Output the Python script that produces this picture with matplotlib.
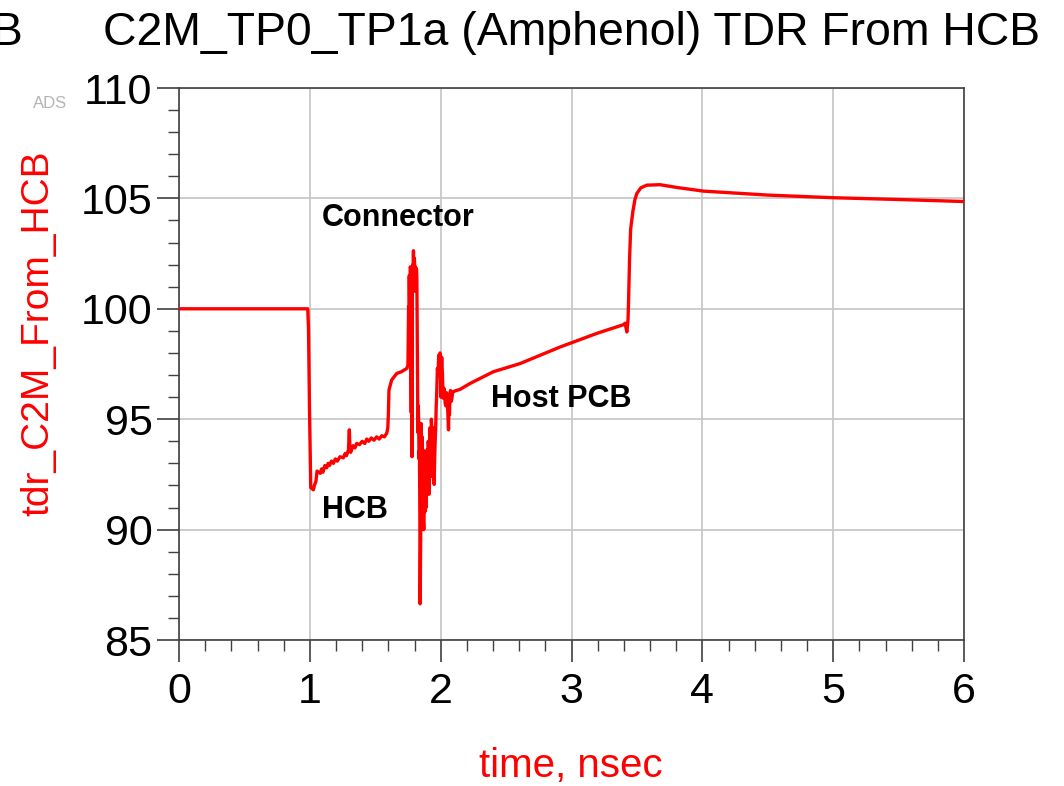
import numpy as np
import matplotlib
matplotlib.use("Agg")
import matplotlib.pyplot as plt
from matplotlib.ticker import MultipleLocator

plt.rcParams['font.family'] = ['Liberation Sans', 'DejaVu Sans']

# TDR trace (time in nsec, impedance in ohm)
t_hcb = [0.0, 0.984, 0.990, 0.997, 1.007, 1.027, 1.035, 1.047, 1.055, 1.08, 1.09, 1.10,
         1.115, 1.129, 1.14, 1.15, 1.165, 1.18, 1.195, 1.21, 1.23, 1.256, 1.27, 1.28,
         1.295, 1.302, 1.306, 1.312, 1.33, 1.345, 1.358, 1.38, 1.40, 1.42, 1.435, 1.45,
         1.47, 1.49, 1.511, 1.53, 1.55, 1.57, 1.588, 1.596, 1.600, 1.605, 1.625, 1.664,
         1.70, 1.741]
z_hcb = [100.0, 100.0, 99.1, 95.65, 91.9, 91.8, 92.0, 92.2, 92.65, 92.55, 92.75, 92.6,
         92.9, 92.8, 93.0, 92.9, 93.1, 93.0, 93.2, 93.1, 93.3, 93.25, 93.45, 93.35,
         93.6, 94.52, 93.7, 93.5, 93.8, 93.7, 93.9, 93.85, 94.0, 93.9, 94.1, 94.0,
         94.15, 94.05, 94.2, 94.1, 94.25, 94.2, 94.37, 94.6, 95.2, 96.32, 96.77, 97.07,
         97.15, 97.30]

t_conn = [1.750, 1.753, 1.755, 1.758, 1.760, 1.763, 1.765, 1.768, 1.770, 1.773, 1.775,
          1.778, 1.781, 1.784, 1.786, 1.788, 1.790, 1.792, 1.794, 1.796, 1.798, 1.800,
          1.803, 1.805, 1.808, 1.810, 1.812, 1.815, 1.818, 1.822, 1.826, 1.829, 1.832,
          1.835, 1.838, 1.841, 1.843, 1.845, 1.847, 1.849, 1.851, 1.853, 1.855, 1.857,
          1.859, 1.861, 1.863, 1.865, 1.867, 1.869, 1.871, 1.874, 1.876, 1.879, 1.881,
          1.884, 1.886, 1.889, 1.891, 1.894, 1.896, 1.899, 1.902, 1.905, 1.908, 1.911,
          1.914, 1.917, 1.920, 1.923, 1.926, 1.929, 1.932, 1.935, 1.938, 1.941, 1.944,
          1.947, 1.950, 1.954, 1.958, 1.962, 1.966, 1.970, 1.975, 1.980, 1.985, 1.988,
          1.992, 1.995, 1.997, 2.000, 2.002, 2.005, 2.008, 2.011, 2.014, 2.017, 2.020,
          2.025, 2.030, 2.035, 2.040, 2.045, 2.050, 2.055, 2.060, 2.064, 2.067, 2.071,
          2.075, 2.080, 2.085, 2.091, 2.097]
z_conn = [97.45, 99.0, 100.1, 98.5, 101.5, 99.2, 100.5, 101.9, 101.8, 97.0, 95.3,
          101.2, 93.3, 101.6, 100.8, 102.0, 101.2, 102.63, 101.0, 101.5, 102.3, 102.2,
          100.8, 101.0, 101.9, 101.6, 101.0, 101.8, 101.4, 97.5, 94.4, 95.6, 94.8,
          93.2, 93.6, 90.5, 86.64, 88.0, 89.5, 93.5, 94.8, 91.0, 90.0, 93.8,
          94.2, 90.8, 90.3, 92.8, 93.6, 90.4, 90.0, 92.9, 93.3, 90.8, 91.2,
          93.4, 92.8, 91.0, 91.6, 93.6, 93.0, 91.8, 92.4, 94.0, 93.6, 91.6,
          92.2, 94.6, 94.2, 92.4, 93.0, 95.0, 94.6, 92.6, 92.5, 94.2, 94.6,
          92.6, 92.05, 93.2, 94.0, 94.6, 95.6, 96.2, 97.3, 97.0, 97.9, 97.2,
          97.5, 98.0, 97.82, 96.6, 96.0, 97.4, 97.8, 97.4, 97.0, 96.2, 95.95,
          96.4, 96.2, 95.7, 95.6, 96.2, 96.0, 95.3, 94.52, 95.9, 95.2, 96.1,
          96.3, 95.8, 95.9, 96.2, 96.25]

t_host = [2.120, 2.148, 2.225, 2.403, 2.607, 2.913, 3.20, 3.397, 3.410, 3.423, 3.432,
          3.436, 3.444, 3.452, 3.469, 3.485, 3.499, 3.53, 3.576, 3.677, 3.80, 4.008,
          4.50, 5.003, 5.50, 5.996]
z_host = [96.3, 96.35, 96.62, 97.15, 97.52, 98.27, 98.9, 99.28, 99.35, 98.95, 99.5,
          100.3, 102.3, 103.6, 104.41, 104.95, 105.22, 105.48, 105.6, 105.62, 105.5, 105.33,
          105.15, 105.03, 104.95, 104.86]

t = np.array(t_hcb + t_conn + t_host)
z = np.array(z_hcb + z_conn + z_host)

labels = ["Connector", "HCB", "Host PCB"]
label_t = [1.093, 1.091, 2.381]
label_z = [103.77, 90.54, 95.57]

W, H = 1064, 786
fig = plt.figure(figsize=(W / 100, H / 100), dpi=100)
ax = fig.add_axes([179 / W, (H - 640) / H, (964 - 179) / W, (640 - 88) / H])

ax.plot(t, z, color="#ff0000", linewidth=2.4, zorder=3)

ax.set_xlim(0, 6)
ax.set_ylim(85, 110)
ax.xaxis.set_major_locator(MultipleLocator(1))
ax.xaxis.set_minor_locator(MultipleLocator(0.2))
ax.yaxis.set_major_locator(MultipleLocator(5))
ax.yaxis.set_minor_locator(MultipleLocator(1))
ax.grid(True, which="major", color="#c8c8c8", linewidth=1.3, zorder=0)
ax.set_axisbelow(True)

dark = "#404040"
for s in ax.spines.values():
    s.set_color(dark)
    s.set_linewidth(1.2)
ax.tick_params(axis="both", which="major", length=16, width=1.2, color=dark,
               labelsize=31, labelcolor="black")
ax.tick_params(axis="both", which="minor", length=8, width=1.0, color=dark)
ax.tick_params(axis="x", which="major", pad=7)
ax.tick_params(axis="y", which="major", pad=3)

for txt, tx, tz in zip(labels, label_t, label_z):
    ax.text(tx, tz, txt, fontsize=22, fontweight="bold", color="black",
            ha="left", va="baseline", zorder=4)

fig.text(22 / W, 1 - 45 / H, "B", fontsize=33.4, ha="right", va="baseline")
fig.text(103 / W, 1 - 45 / H, "C2M_TP0_TP1a (Amphenol) TDR From HCB",
         fontsize=33.4, ha="left", va="baseline")
fig.text(50 / W, 1 - 104 / H, "ADS", fontsize=12, color="#b4b4b4",
         ha="center", va="center")
fig.text(38 / W, 1 - 333 / H, "tdr_C2M_From_HCB", fontsize=28, color="#ff0000",
         rotation=90, ha="center", va="center")
fig.text(571 / W, 1 - 777 / H, "time, nsec", fontsize=29, color="#ff0000",
         ha="center", va="baseline")

fig.savefig("out.png", dpi=100)
